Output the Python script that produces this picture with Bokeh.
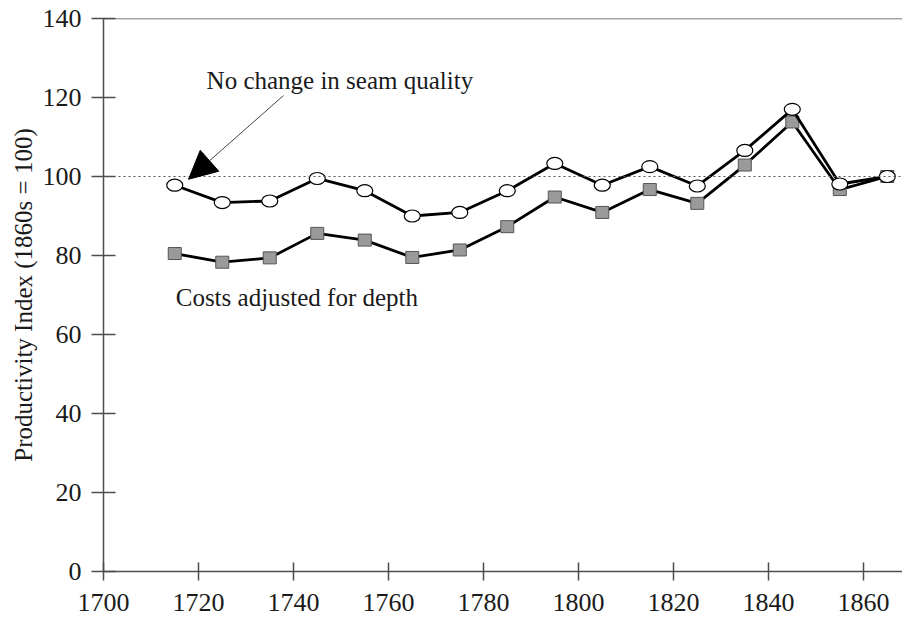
from bokeh.plotting import figure
from bokeh.models import Range1d, Span, Label, Arrow, NormalHead, FixedTicker
from bokeh.embed import file_html
from bokeh.resources import INLINE

years = [1715, 1725, 1735, 1745, 1755, 1765, 1775, 1785, 1795, 1805, 1815, 1825, 1835, 1845, 1855, 1865]
no_change = [97.8, 93.4, 93.8, 99.5, 96.4, 90.0, 90.9, 96.4, 103.3, 97.8, 102.5, 97.6, 106.6, 117.0, 98.1, 100.0]
depth_adj = [80.5, 78.3, 79.4, 85.6, 83.9, 79.5, 81.4, 87.3, 94.8, 90.9, 96.7, 93.2, 102.9, 113.8, 96.7, 100.0]
x_ticks = [1700, 1720, 1740, 1760, 1780, 1800, 1820, 1840, 1860]
y_ticks = [0, 20, 40, 60, 80, 100, 120, 140]
label_no_change = "No change in seam quality"
label_depth = "Costs adjusted for depth"
y_title = "Productivity Index (1860s = 100)"

FONT = "Liberation Serif"
TXT = "#1a1a1a"
AX = "#4d4d4d"

p = figure(width=902, height=622, output_backend="svg", toolbar_location=None,
           x_range=Range1d(1700, 1868.2), y_range=Range1d(0, 140),
           min_border_left=103, min_border_right=0, min_border_top=18, min_border_bottom=51)
p.outline_line_color = None
p.grid.visible = False
p.background_fill_color = "white"

for ax in (p.xaxis[0], p.yaxis[0]):
    ax.axis_line_color = AX
    ax.axis_line_width = 1.5
    ax.major_tick_line_color = AX
    ax.major_tick_line_width = 1.5
    ax.minor_tick_line_color = None
    ax.major_label_text_font = FONT
    ax.major_label_text_font_size = "26px"
    ax.major_label_text_color = TXT

p.xaxis.ticker = FixedTicker(ticks=x_ticks)
p.yaxis.ticker = FixedTicker(ticks=y_ticks)
p.xaxis.major_tick_in = 9
p.xaxis.major_tick_out = 9
p.xaxis.major_label_standoff = 13
p.yaxis.major_tick_in = 12
p.yaxis.major_tick_out = 12
p.yaxis.major_label_standoff = 10
p.yaxis.axis_label = y_title
p.yaxis.axis_label_text_font = FONT
p.yaxis.axis_label_text_font_size = "25px"
p.yaxis.axis_label_text_font_style = "normal"
p.yaxis.axis_label_text_color = TXT
p.yaxis.axis_label_standoff = 3

# top frame line and 100 reference line
p.add_layout(Span(location=140, dimension="width", line_color=AX, line_width=1.5))
p.add_layout(Span(location=100, dimension="width", line_color="#555555", line_width=1.2, line_dash="2 3"))

# depth adjusted series (squares)
p.line(years, depth_adj, line_color="black", line_width=2.8)
p.rect(years, depth_adj, width=13, height=12, width_units="screen", height_units="screen",
       fill_color="#9a9a9a", line_color="#555555", line_width=1)

# no change series (circles)
p.line(years, no_change, line_color="black", line_width=2.8)
p.ellipse(years, no_change, width=16, height=12, width_units="screen", height_units="screen",
          fill_color="white", line_color="black", line_width=1.2)

p.add_layout(Label(x=1721.7, y=124.4, text=label_no_change, text_font=FONT,
                   text_font_size="25px", text_color=TXT, text_baseline="alphabetic"))
p.add_layout(Label(x=1715.2, y=69.3, text=label_depth, text_font=FONT,
                   text_font_size="25px", text_color=TXT, text_baseline="alphabetic"))

p.add_layout(Arrow(x_start=1737.9, y_start=120.5, x_end=1717.9, y_end=99.3,
                   line_color="#444444", line_width=1,
                   end=NormalHead(size=28, fill_color="black", line_color="black")))

open("out.html", "w").write(file_html(p, INLINE))
